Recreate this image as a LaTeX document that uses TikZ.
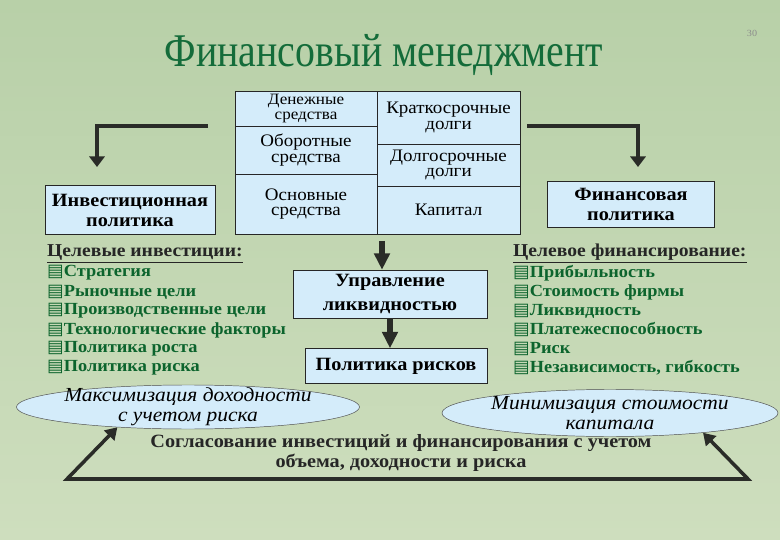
\documentclass[tikz,border=0pt]{standalone}
\usepackage{fontspec}
\setmainfont{Liberation Serif}[FakeStretch=1.08]
\newfontfamily\titlefont{Liberation Serif}[FakeStretch=0.85]
\newfontfamily\symfont{DejaVu Sans}
\usetikzlibrary{positioning,shapes.geometric,arrows.meta}

\definecolor{cellblue}{RGB}{212,236,250}
\definecolor{titlegreen}{RGB}{20,108,58}
\definecolor{itemgreen}{RGB}{12,100,45}
\definecolor{arrowgray}{RGB}{42,44,40}
\definecolor{bgtop}{RGB}{184,208,168}
\definecolor{bgbot}{RGB}{206,222,190}

\newcommand\docicon{{\symfont\fontsize{15}{15}\selectfont ▤}}

\begin{document}
\begin{tikzpicture}[x=0.03cm, y=-0.03cm,
  cell/.style = {shape=rectangle, draw=black!85, fill=cellblue, align=center,
    inner sep=0pt, outer sep=0pt, minimum width=4.26cm,
    font=\fontsize{15}{13.5}\selectfont},
  polbox/.style = {shape=rectangle, draw=black!85, fill=cellblue, align=center,
    inner sep=0pt, font=\bfseries\fontsize{16}{17}\selectfont},
  oval/.style = {shape=ellipse, draw=black!70, fill=cellblue, align=center,
    inner xsep=-2pt, inner ysep=-6pt, font=\itshape\fontsize{17}{17}\selectfont},
  head/.style = {anchor=base west, inner sep=0pt, text=black!85,
    font=\bfseries\fontsize{15.5}{16}\selectfont},
  item/.style = {anchor=west, inner sep=0pt, text=itemgreen,
    font=\bfseries\fontsize{14.5}{16}\selectfont},
  elbow/.style = {draw=arrowgray, line width=3pt, -{Triangle[width=13pt,length=9pt]}},
  bigarrow/.style = {draw=arrowgray, line width=5pt, -{Triangle[width=13pt,length=14pt]}},
  link/.style = {draw=arrowgray, line width=3pt,
    {Triangle[width=12pt,length=10pt]}-{Triangle[width=12pt,length=10pt]}}]

%% background
  \shade[top color=bgtop, bottom color=bgbot] (0,0) rectangle (780,540);
  \useasboundingbox (0,0) rectangle (780,540);

  \node[anchor=base, text=titlegreen, font=\titlefont\fontsize{40}{40}\selectfont] (title) at (384,67) {Финансовый менеджмент};
  \node[text=black!45, font=\fontsize{8}{8}\selectfont] (pnum) at (752,33) {30};

%% balance sheet
  \node[cell, anchor=north west, minimum height=1.05cm, font=\fontsize{13.5}{13}\selectfont] (den) at (235,91) {Денежные\\средства};
  \node[cell, below=0pt of den, minimum height=1.44cm] (obor) {Оборотные\\средства};
  \node[cell, below=0pt of obor, minimum height=1.8cm] (osn) {Основные\\средства};
  \node[cell, anchor=north west, minimum width=4.29cm, minimum height=1.59cm] (krat) at (den.north east) {Краткосрочные\\долги};
  \node[cell, below=0pt of krat, minimum width=4.29cm, minimum height=1.26cm] (dolg) {Долгосрочные\\долги};
  \node[cell, below=0pt of dolg, minimum width=4.29cm, minimum height=1.44cm] (kap) {Капитал};

  \node[polbox, minimum width=5.1cm, minimum height=1.47cm] (invpol) at (130,210) {Инвестиционная\\политика};
  \node[polbox, minimum width=5.01cm, minimum height=1.38cm] (finpol) at (631,204) {Финансовая\\политика};
  \node[polbox, minimum width=5.82cm, minimum height=1.44cm,
    font=\bfseries\fontsize{16}{20}\selectfont] (upr) at (390,294) {Управление\\ликвидностью};
  \node[polbox, minimum width=5.46cm, minimum height=1.05cm] (risk) at (396,366) {Политика рисков};

  \coordinate (lstart) at (208,126);
  \coordinate (lend) at (97,167);
  \draw[elbow] (lstart) -| (lend);
  \coordinate (rstart) at (527,126);
  \coordinate (rend) at (638,167);
  \draw[elbow] (rstart) -| (rend);

  \coordinate (tbot) at (382,241);
  \draw[bigarrow] (tbot) -- (tbot |- upr.north);
  \draw[bigarrow] (upr.south) -- (risk.north -| upr.south);

%% target lists
  \node[head] (hinv) at (47,257) {\underline{Целевые инвестиции:}};
  \foreach \txt [count=\i] in {Стратегия, Рыночные цели, Производственные цели,
      Технологические факторы, Политика роста, Политика риска}
    \node[item] (ti\i) at (47,254+19*\i) {\docicon\txt};
  \node[head] (hfin) at (513,257) {\underline{Целевое финансирование:}};
  \foreach \txt [count=\i] in {Прибыльность, Стоимость фирмы, Ликвидность,
      Платежеспособность, Риск, {Независимость, гибкость}}
    \node[item] (tf\i) at (513,254+19*\i) {\docicon\txt};

  \node[oval, minimum width=10.2cm, minimum height=1.32cm] (maxi) at (188,407) {Максимизация доходности\\с учетом риска};
  \node[oval, minimum width=10.08cm, minimum height=1.41cm] (mini) at (610,413) {Минимизация стоимости\\капитала};

  \node[align=center, text=black!85, font=\bfseries\fontsize{16}{17}\selectfont] (agree) at (401,453)
    {Согласование инвестиций и финансирования с учетом\\объема, доходности и риска};

  \coordinate (bl) at (67,479);
  \coordinate (br) at (748,479);
  \draw[link] (maxi.196) -- (bl) -- (br) -- (mini.348);
\end{tikzpicture}
\end{document}
